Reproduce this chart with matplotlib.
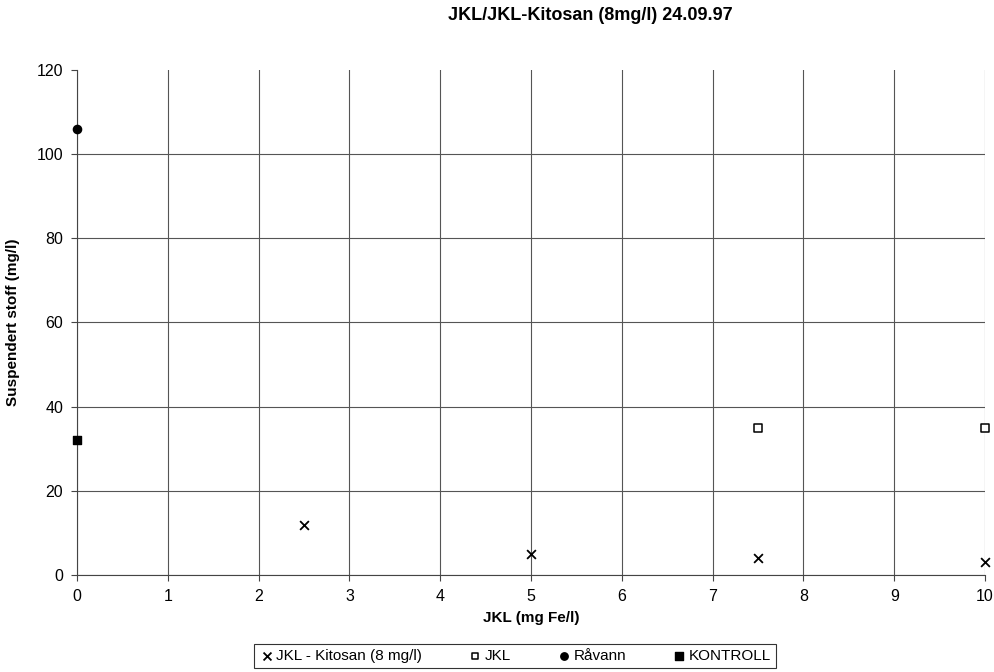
import matplotlib
matplotlib.use('Agg')
import matplotlib.pyplot as plt

plt.rcParams['font.family'] = ['Liberation Sans', 'DejaVu Sans']

# data
kitosan_x = [2.5, 5, 7.5, 10]
kitosan_y = [12, 5, 4, 3]
jkl_x = [7.5, 10]
jkl_y = [35, 35]
raavann_x = [0]
raavann_y = [106]
kontroll_x = [0]
kontroll_y = [32]

fig = plt.figure(figsize=(9.95, 6.72), dpi=100)
ax = fig.add_axes([0.0774, 0.1443, 0.9126, 0.7517])

ax.scatter(kitosan_x, kitosan_y, marker='x', s=40, color='black', linewidths=1.3,
           label='JKL - Kitosan (8 mg/l)', clip_on=False, zorder=3)
ax.scatter(jkl_x, jkl_y, marker='s', s=30, facecolor='white', edgecolor='black',
           linewidths=1.1, label='JKL', clip_on=False, zorder=3)
ax.scatter(raavann_x, raavann_y, marker='o', s=35, color='black',
           label='Råvann', clip_on=False, zorder=3)
ax.scatter(kontroll_x, kontroll_y, marker='s', s=35, color='black',
           label='KONTROLL', clip_on=False, zorder=3)

ax.set_xlim(0, 10)
ax.set_ylim(0, 120)
ax.set_xticks(range(0, 11))
ax.set_yticks(range(0, 121, 20))
ax.grid(True, color='#555555', linewidth=0.8)
ax.yaxis.get_gridlines()[-1].set_visible(False)
ax.set_axisbelow(True)
for s in ['top', 'right']:
    ax.spines[s].set_visible(False)
ax.spines['left'].set_color('#444444')
ax.spines['bottom'].set_color('#444444')
ax.tick_params(labelsize=11.5, length=4, color='#444444', pad=6)

ax.set_xlabel('JKL (mg Fe/l)', fontsize=11, fontweight='bold', labelpad=5)
ax.set_ylabel('Suspendert stoff (mg/l)', fontsize=11, fontweight='bold', labelpad=12)

fig.text(590 / 995, 1 - 16 / 672, 'JKL/JKL-Kitosan (8mg/l) 24.09.97',
         ha='center', va='center', fontsize=13, fontweight='bold')

leg = fig.legend(loc='center', bbox_to_anchor=(515 / 995, 1 - 656 / 672), ncol=4,
                 fontsize=11, frameon=True, fancybox=False, handletextpad=0.1,
                 columnspacing=3.0, borderpad=0.35, handlelength=1.0, markerscale=0.9)
leg.get_frame().set_edgecolor('black')
leg.get_frame().set_linewidth(0.8)

fig.savefig('out.png', dpi=100)
